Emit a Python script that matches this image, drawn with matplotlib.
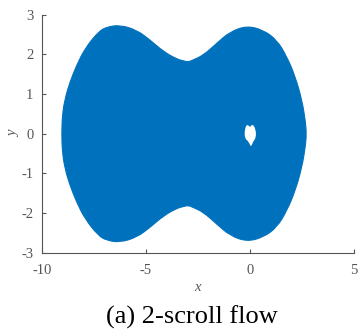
import matplotlib.pyplot as plt
from matplotlib.path import Path
from matplotlib.patches import PathPatch

# upper outline of the attractor (x, y), left to right; lower half is the mirror image
x_outline = [-9.04, -9.01, -8.88, -8.64, -8.32, -7.92, -7.28, -6.88, -6.24,
             -5.43, -4.79, -4.15, -3.51, -3.15, -2.95, -2.72, -2.23, -1.59, -0.95,
             -0.14, 0.65, 1.30, 1.78, 2.18, 2.50, 2.66, 2.72]
y_outline = [0.00, 0.47, 0.89, 1.31, 1.73, 2.15, 2.57, 2.69, 2.74,
             2.61, 2.36, 2.07, 1.88, 1.83, 1.81, 1.86, 1.98, 2.28, 2.57,
             2.72, 2.61, 2.36, 1.94, 1.44, 0.85, 0.35, 0.00]

# small empty region around the origin
hole_x = [-0.25, -0.12, 0.0, 0.12, 0.28, 0.30, 0.15, 0.05, -0.05, -0.25]
hole_y = [0.12, 0.25, 0.15, 0.25, 0.12, -0.10, -0.20, -0.35, -0.20, -0.12]

blue = '#0072BD'
grey = '#555555'

plt.rcParams['font.family'] = ['Liberation Serif', 'DejaVu Serif']
plt.rcParams['axes.unicode_minus'] = False


def smooth_patch(xs, ys, **kw):
    # closed quadratic bezier through the midpoints, outline points as controls
    pts = list(zip(xs, ys))
    n = len(pts)
    mid = lambda a, b: ((a[0] + b[0]) / 2, (a[1] + b[1]) / 2)
    verts = [mid(pts[-1], pts[0])]
    codes = [Path.MOVETO]
    for i in range(n):
        verts += [pts[i], mid(pts[i], pts[(i + 1) % n])]
        codes += [Path.CURVE3, Path.CURVE3]
    verts.append(verts[0])
    codes.append(Path.CLOSEPOLY)
    return PathPatch(Path(verts, codes), **kw)


fig = plt.figure(figsize=(3.63, 3.31), dpi=100)
ax = fig.add_axes([0.115, 0.2366, 0.86, 0.719])

poly_x = x_outline + x_outline[-2:0:-1]
poly_y = y_outline + [-v for v in y_outline[-2:0:-1]]
ax.add_patch(smooth_patch(poly_x, poly_y, facecolor=blue, edgecolor=blue, linewidth=0.8))
ax.add_patch(smooth_patch(hole_x, hole_y, facecolor='white', edgecolor='none'))

ax.set_xlim(-10, 5)
ax.set_ylim(-3, 3)
ax.set_xticks([-10, -5, 0, 5])
ax.set_yticks([-3, -2, -1, 0, 1, 2, 3])
for s in ['top', 'right']:
    ax.spines[s].set_visible(False)
for s in ['left', 'bottom']:
    ax.spines[s].set_color(grey)
    ax.spines[s].set_linewidth(0.8)
ax.tick_params(direction='in', length=3, colors=grey, labelsize=10.5)
ax.tick_params(axis='x', pad=8)
ax.tick_params(axis='y', pad=6)
ax.set_xlabel('x', style='italic', color=grey, fontsize=10.5, labelpad=3)
ax.set_ylabel('y', style='italic', color=grey, fontsize=10.5, labelpad=1)

fig.text(0.528, 0.04, '(a) 2-scroll flow', ha='center', va='center', fontsize=19)

fig.savefig('out.png', dpi=100)
